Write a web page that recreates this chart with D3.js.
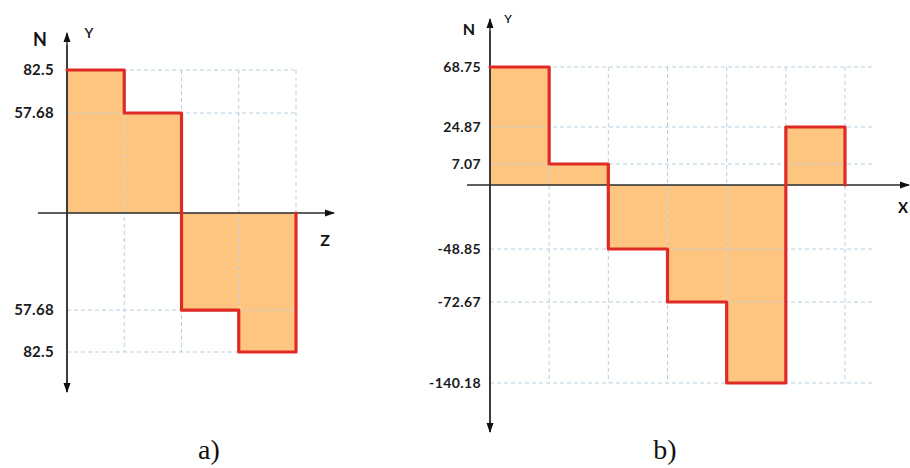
<!DOCTYPE html>
<html><head><meta charset="utf-8">
<script src="https://cdn.jsdelivr.net/npm/d3@7"></script>
<style>html,body{margin:0;padding:0;background:#fff;}svg{display:block;}</style>
</head><body>
<script>
// ---- Data ----
const segmentsA = [0, 1, 2, 3, 4];                 // Z segment boundaries
const valuesA = [82.5, 57.68, -57.68, -82.5];      // N on each segment
const tickValuesA = [82.5, 57.68, -57.68, -82.5];
const tickLabelsA = ["82.5", "57.68", "57.68", "82.5"];

const segmentsB = [0, 1, 2, 3, 4, 5, 6];           // X segment boundaries
const valuesB = [68.75, 7.07, -48.85, -72.67, -140.18, 24.87];
const tickValuesB = [68.75, 24.87, 7.07, -48.85, -72.67, -140.18];
const tickLabelsB = ["68.75", "24.87", "7.07", "-48.85", "-72.67", "-140.18"];

const captions = ["a)", "b)"];

// ---- Styles ----
const W = 910, H = 468;
const fillC = "#fdc57f", lineC = "#e02a26", gridC = "#b9cfe0", axisC = "#2a2a2a";
const tickFont = "Lato, 'Noto Sans', sans-serif";

const svg = d3.select("body").append("svg").attr("width", W).attr("height", H);
const defs = svg.append("defs");
defs.append("marker").attr("id", "arr").attr("viewBox", "0 0 10 10")
  .attr("refX", 9).attr("refY", 5).attr("markerWidth", 10).attr("markerHeight", 10)
  .attr("markerUnits", "userSpaceOnUse").attr("orient", "auto")
  .append("path").attr("d", "M0,1.5 L10,5 L0,8.5 Z").attr("fill", "#111");

function stepPath(bounds, vals, x, y) {
  let d = `M${x(bounds[0])},${y(vals[0])}`;
  vals.forEach((v, i) => {
    if (i > 0) d += `V${y(v)}`;
    d += `H${x(bounds[i + 1])}`;
  });
  d += `V${y(0)}`;
  return d;
}

function drawPanel(cfg) {
  const g = svg.append("g");
  const { x, y, bounds, vals, ticks, labels, gridRight, gridTop, gridBottom } = cfg;
  g.selectAll("rect.bar").data(vals).join("rect")
    .attr("x", (d, i) => x(bounds[i]))
    .attr("width", (d, i) => x(bounds[i + 1]) - x(bounds[i]))
    .attr("y", d => Math.min(y(d), y(0)))
    .attr("height", d => Math.abs(y(d) - y(0)))
    .attr("fill", fillC);
  g.selectAll("line.gh").data(ticks).join("line")
    .attr("x1", x(0)).attr("x2", gridRight)
    .attr("y1", d => y(d)).attr("y2", d => y(d))
    .attr("stroke", gridC).attr("stroke-width", 1).attr("stroke-dasharray", "4,3");
  g.selectAll("line.gv").data(bounds.slice(1)).join("line")
    .attr("x1", d => x(d)).attr("x2", d => x(d))
    .attr("y1", y(gridTop)).attr("y2", y(gridBottom))
    .attr("stroke", gridC).attr("stroke-width", 1).attr("stroke-dasharray", "4,3");
  g.append("line").attr("x1", cfg.xAxisFrom).attr("x2", cfg.xAxisTo)
    .attr("y1", y(0)).attr("y2", y(0)).attr("stroke", axisC).attr("stroke-width", 1.4)
    .attr("marker-end", "url(#arr)");
  g.append("line").attr("x1", x(0)).attr("x2", x(0))
    .attr("y1", cfg.yAxisBottom).attr("y2", cfg.yAxisTop).attr("stroke", axisC).attr("stroke-width", 1.4)
    .attr("marker-end", "url(#arr)");
  g.append("line").attr("x1", x(0)).attr("x2", x(0))
    .attr("y1", cfg.yAxisTop + 12).attr("y2", cfg.yAxisBottom).attr("stroke", axisC).attr("stroke-width", 1.4)
    .attr("marker-end", "url(#arr)");
  g.append("path").attr("d", stepPath(bounds, vals, x, y))
    .attr("fill", "none").attr("stroke", lineC).attr("stroke-width", 3.2)
    .attr("stroke-linejoin", "round").attr("stroke-linecap", "round");
  g.selectAll("text.tk").data(ticks).join("text")
    .attr("x", cfg.labelX).attr("y", d => y(d)).attr("dy", "0.35em")
    .attr("text-anchor", "end").attr("font-family", tickFont)
    .attr("font-weight", 700).attr("font-size", cfg.tickSize)
    .attr("letter-spacing", cfg.tickSpacing).attr("fill", "#1a1a1a")
    .text((d, i) => labels[i]);
  cfg.names.forEach(n => {
    g.append("text").attr("x", n.x).attr("y", n.y).attr("text-anchor", "middle")
      .attr("dy", "0.35em").attr("font-family", tickFont).attr("font-weight", n.w || 700)
      .attr("font-size", n.s).attr("fill", "#111").text(n.t);
  });
  svg.append("text").attr("x", cfg.capX).attr("y", 459).attr("text-anchor", "middle")
    .attr("font-family", "'Liberation Serif', serif").attr("font-size", 28).attr("fill", "#111")
    .text(cfg.caption);
}

// Panel a
const xA = d3.scaleLinear().domain([segmentsA[0], segmentsA[segmentsA.length - 1]]).range([67, 296]);
const yA = d3.scaleLinear().domain([-82.5, 0, 82.5]).range([352, 213, 70]);
drawPanel({
  x: xA, y: yA, bounds: segmentsA, vals: valuesA, ticks: tickValuesA, labels: tickLabelsA,
  gridRight: xA(4), gridTop: d3.max(tickValuesA), gridBottom: d3.min(tickValuesA),
  xAxisFrom: 38, xAxisTo: 334, yAxisTop: 33, yAxisBottom: 392, labelX: 54,
  tickSize: 15, tickSpacing: 0.3,
  names: [{ t: "N", x: 40, y: 40, s: 18 }, { t: "Y", x: 89, y: 33, s: 14, w: 600 }, { t: "Z", x: 325, y: 240, s: 16 }],
  capX: 209, caption: captions[0]
});

// Panel b (schematic, non-uniform vertical spacing)
const xB = d3.scaleLinear().domain([segmentsB[0], segmentsB[segmentsB.length - 1]]).range([490, 845]);
const levelsB = [-140.18, -72.67, -48.85, 0, 7.07, 24.87, 68.75];
const yB = d3.scaleLinear().domain(levelsB).range([383, 302, 249, 185, 164, 127, 67]);
drawPanel({
  x: xB, y: yB, bounds: segmentsB, vals: valuesB, ticks: tickValuesB, labels: tickLabelsB,
  gridRight: 873, gridTop: d3.max(tickValuesB), gridBottom: d3.min(tickValuesB),
  xAxisFrom: 467, xAxisTo: 909, yAxisTop: 19, yAxisBottom: 432, labelX: 481,
  tickSize: 14, tickSpacing: 0.4,
  names: [{ t: "N", x: 469, y: 29, s: 16 }, { t: "Y", x: 508, y: 19, s: 12, w: 600 }, { t: "X", x: 903, y: 208, s: 15 }],
  capX: 665, caption: captions[1]
});
</script>
</body></html>
